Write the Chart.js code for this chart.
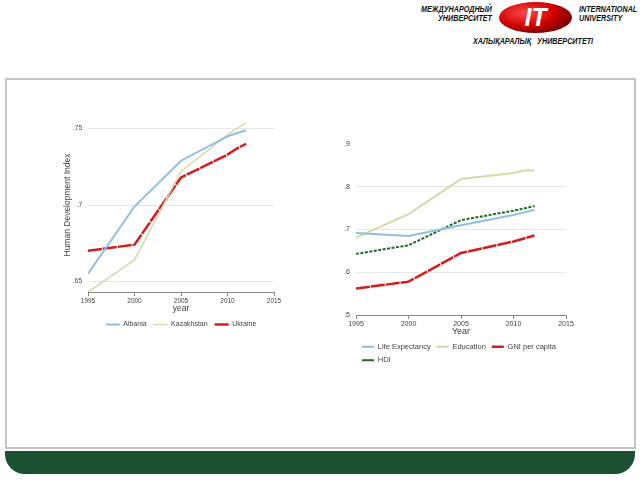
<!DOCTYPE html>
<html>
<head>
<meta charset="utf-8">
<script src="https://cdn.jsdelivr.net/npm/chart.js@4.4.1/dist/chart.umd.min.js"></script>
<style>
  body { margin: 0; width: 640px; height: 480px; background: #fff; position: relative; overflow: hidden; }
  .logo { position: absolute; font-family: "Liberation Sans", Arial, sans-serif; font-weight: bold; font-style: italic; font-size: 9px; line-height: 9px; color: #111; white-space: nowrap; transform: scaleX(0.8); transform-origin: left top; }
  #ellipse { position: absolute; left: 499px; top: 2px; width: 73px; height: 31px; border-radius: 50%;
    background: radial-gradient(ellipse at 35% 35%, #ff4a4a 0%, #d00000 45%, #6a0000 80%, #200 100%);
    color: #fff; font: italic bold 25px "Liberation Sans", Arial, sans-serif; text-align: center; line-height: 31px; }
  #frame { position: absolute; left: 5px; top: 78px; width: 627px; height: 367px; border: 2px solid #c4c4c4; }
  #footer { position: absolute; left: 5px; top: 451px; width: 630px; height: 23px; background: #1b5131; border-radius: 0 0 20px 20px; }
  canvas { position: absolute; }
</style>
</head>
<body>
<div class="logo" style="left:402px;top:5px;width:90px;text-align:right;transform-origin:right top;">МЕЖДУНАРОДНЫЙ<br>УНИВЕРСИТЕТ</div>
<div id="ellipse">IT</div>
<div class="logo" style="left:579px;top:5px;">INTERNATIONAL<br>UNIVERSITY</div>
<div class="logo" style="left:473px;top:37px;word-spacing:5px;">ХАЛЫҚАРАЛЫҚ УНИВЕРСИТЕТІ</div>
<div id="frame"></div>
<div id="footer"></div>
<canvas id="left" width="229" height="240" style="left:61px;top:100px;"></canvas>
<canvas id="right" width="250" height="250" style="left:330px;top:126px;"></canvas>
<script>
const years = [1995, 2000, 2005, 2010, 2011, 2012];
const xTicks = [1995, 2000, 2005, 2010, 2015];

// left chart: HDI by country
const albania = [0.655, 0.699, 0.729, 0.745, 0.747, 0.749];
const kazakhstan = [0.643, 0.664, 0.722, 0.746, 0.750, 0.754];
const ukraine = [0.670, 0.674, 0.718, 0.733, 0.737, 0.740];
const leftTicks = [0.65, 0.7, 0.75];

// right chart: HDI components
const lifeExpectancy = [0.692, 0.685, 0.710, 0.734, 0.740, 0.746];
const education = [0.681, 0.736, 0.818, 0.832, 0.838, 0.838];
const gniPerCapita = [0.562, 0.578, 0.645, 0.672, 0.679, 0.686];
const hdi = [0.643, 0.663, 0.722, 0.744, 0.749, 0.755];
const rightTicks = [0.5, 0.6, 0.7, 0.8, 0.9];

Chart.defaults.font.family = '"Liberation Sans", Arial, sans-serif';
Chart.defaults.color = '#444';
Chart.defaults.animation = false;

const toPoints = vals => vals.map((v, i) => ({ x: years[i], y: v }));
const fmt = v => String(v).replace(/^0/, '');

function series(label, vals, color, width, dash) {
    return {
        label: label,
        data: toPoints(vals),
        borderColor: color,
        backgroundColor: color,
        borderWidth: width,
        borderDash: dash || [],
        pointRadius: 0,
        tension: 0
    };
}

function makeChart(id, datasets, opts) {
    return new Chart(document.getElementById(id), {
        type: 'line',
        data: { datasets: datasets },
        options: {
            responsive: false,
            layout: { padding: opts.padding },
            scales: {
                x: {
                    type: 'linear',
                    min: 1995,
                    max: 2015,
                    afterBuildTicks: s => { s.ticks = xTicks.map(v => ({ value: v })); },
                    ticks: { font: { size: opts.tickSize }, padding: 1, color: '#444', callback: v => String(v) },
                    grid: { drawOnChartArea: false, drawTicks: true, tickLength: 4, color: '#888' },
                    border: { display: true, color: '#888', width: 1 },
                    title: { display: true, text: opts.xTitle, font: { size: opts.titleSize }, padding: { top: -2, bottom: 0 }, color: '#444' },
                    afterFit: s => { s.height = opts.xHeight; }
                },
                y: {
                    min: opts.yMin,
                    max: opts.yMax,
                    afterBuildTicks: s => { s.ticks = opts.yTicks.map(v => ({ value: v })); },
                    ticks: { font: { size: opts.tickSize }, padding: 6, color: '#444', callback: v => fmt(v) },
                    grid: {
                        drawTicks: false,
                        color: c => (c.tick && (c.tick.value <= opts.yMin || c.tick.value >= opts.yMax)) ? 'rgba(0,0,0,0)' : '#e6e6e6'
                    },
                    border: { display: false },
                    title: { display: !!opts.yTitle, text: opts.yTitle, font: { size: 8.5 }, padding: 2, color: '#444' },
                    afterFit: s => { s.width = opts.yWidth; }
                }
            },
            plugins: {
                tooltip: { enabled: false },
                legend: {
                    position: 'bottom',
                    fullSize: false,
                    align: opts.legendAlign,
                    labels: {
                        usePointStyle: true,
                        pointStyle: 'line',
                        pointStyleWidth: opts.sampleWidth,
                        font: { size: opts.legendSize },
                        padding: opts.legendPadding,
                        color: '#444'
                    }
                }
            }
        }
    });
}

makeChart('left', [
    series('Albania', albania, '#8dbfe2', 2),
    series('Kazakhstan', kazakhstan, '#d8d8aa', 1.5),
    series('Ukraine', ukraine, '#d41c1c', 2.5, [14, 1])
], {
    padding: { top: 18, right: 16, bottom: 2, left: 0 },
    yMin: 0.643, yMax: 0.757, yTicks: leftTicks, yWidth: 27,
    yTitle: 'Human Development Index', xTitle: 'year',
    tickSize: 6.5, titleSize: 8.5, legendSize: 7, xHeight: 22, legendAlign: 'center',
    sampleWidth: 14, legendPadding: 7
});

makeChart('right', [
    series('Life Expectancy', lifeExpectancy, '#8dbfe2', 2),
    series('Education', education, '#d8d8aa', 2),
    series('GNI per capita', gniPerCapita, '#d41c1c', 2.5, [14, 1]),
    series('HDI', hdi, '#1a6e1e', 2, [3, 1.5])
], {
    padding: { top: 18, right: 14, bottom: 2, left: 0 },
    yMin: 0.5, yMax: 0.9, yTicks: rightTicks, yWidth: 26,
    yTitle: '', xTitle: 'Year',
    tickSize: 7, titleSize: 9, legendSize: 7.5, xHeight: 22, legendAlign: 'start',
    sampleWidth: 12, legendPadding: 6
});
</script>
</body>
</html>
